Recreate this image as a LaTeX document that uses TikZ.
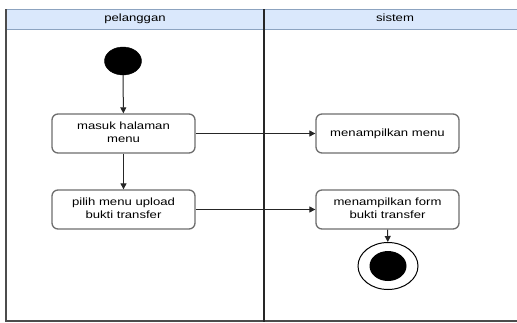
\documentclass[tikz,border=0pt]{standalone}
\usepackage{fontspec}
\setmainfont{Liberation Sans}
\usetikzlibrary{arrows.meta,shapes.geometric}
\newcommand\hs[1]{\scalebox{1.25}[1]{\begin{tabular}{@{}c@{}}#1\end{tabular}}}
\definecolor{hdrfill}{HTML}{DAE8FC}
\definecolor{hdrline}{HTML}{8CA3C0}
\definecolor{boxline}{HTML}{6E6E6E}
\tikzset{
  act/.style={draw=boxline, line width=1.3pt, rounded corners=6pt, minimum width=143pt, minimum height=39pt, inner sep=0pt, align=center, font=\fontsize{10.5}{13}\selectfont},
  flow/.style={draw=black!85, line width=1pt, -{Triangle[length=6pt,width=6pt]}},
  lbl/.style={font=\fontsize{10.5}{13}\selectfont, inner sep=0pt}
}
\begin{document}
\begin{tikzpicture}[x=1pt,y=-1pt]
\useasboundingbox (0,0) rectangle (517,322);
\fill[white] (0,0) rectangle (517,322);
% header
\fill[hdrfill] (6,9) rectangle (530,29);
\draw[hdrline, line width=0.8pt] (6,9) -- (530,9);
\draw[hdrline, line width=0.8pt] (6,29) -- (530,29);
\draw[black!70, line width=1.2pt] (6,9) -- (6,321) -- (530,321);
\draw[black!85, line width=1.2pt] (264,9) -- (264,322);
\node[lbl] (h1) at (135,19) {\hs{pelanggan}};
\node[lbl] (h2) at (395,19) {\hs{sistem}};
% nodes
\node[fill=black, ellipse, minimum width=37pt, minimum height=28pt, inner sep=0pt, draw=black] (start) at (123,61) {};
\node[act] (a1) at (123.5,133.5) {\hs{masuk halaman\\menu}};
\node[act] (a2) at (123.5,209.5) {\hs{pilih menu upload\\bukti transfer}};
\node[act] (b1) at (387.5,133.5) {\hs{menampilkan menu}};
\node[act] (b2) at (387.5,209.5) {\hs{menampilkan form\\bukti transfer}};
\node[ellipse, draw=black, line width=1pt, minimum width=60pt, minimum height=47pt, inner sep=0pt] (endo) at (388,266) {};
\node[ellipse, fill=black, minimum width=37pt, minimum height=30pt, inner sep=0pt] (endi) at (388,266) {};
% flows
\draw[flow] (start) -- (a1);
\draw[flow] (a1) -- (a2);
\draw[flow] (a1) -- (b1);
\draw[flow] (a2) -- (b2);
\draw[flow] (b2) -- (endo);
\end{tikzpicture}
\end{document}
